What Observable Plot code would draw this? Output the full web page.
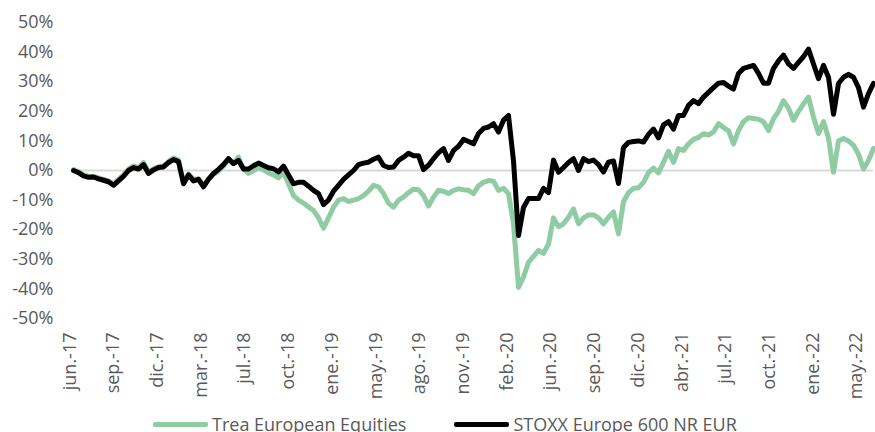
<!DOCTYPE html>
<html>
<head>
<meta charset="utf-8">
<script src="https://cdn.jsdelivr.net/npm/d3@7"></script>
<script src="https://cdn.jsdelivr.net/npm/@observablehq/plot@0.6"></script>
<style>
  body { margin: 0; background: #fff; font-family: "Open Sans", sans-serif; }
  #chart svg { display: block; }
  .legend { display: flex; align-items: center; padding-top: 15px; margin-left: 153px; color: #595959; font-size: 18px; line-height: 18px; }
  .item { display: flex; align-items: center; margin-right: 48px; }
  .sw { width: 55px; height: 5px; border-radius: 2px; margin-right: 4px; }
</style>
</head>
<body>
<div id="chart"></div>
<div class="legend" id="legend"></div>
<script>
const tickLabels = ["jun.-17","sep.-17","dic.-17","mar.-18","jul.-18","oct.-18","ene.-19","may.-19","ago.-19","nov.-19","feb.-20","jun.-20","sep.-20","dic.-20","abr.-21","jul.-21","oct.-21","ene.-22","may.-22"];
const yTicks = [-50,-40,-30,-20,-10,0,10,20,30,40,50];
const seriesNames = ["Trea European Equities", "STOXX Europe 600 NR EUR"];
const seriesColors = ["#8fcba3", "#000000"];

// Cumulative return (%), sampled roughly weekly (~8 trading days)
const treaValues = [
  0.3,-0.5,-1.5,-2,-2,-2.5,-3,-3.5,-4.5,-3,
  -1.5,0.5,1.5,1,2.7,-0.5,0.5,1.3,1.5,3,
  4.2,3.5,-4,-1.2,-3,-2.8,-5,-2.8,-1.3,-0.2,
  1.5,4,2.5,4.5,0.5,-1,0,1,0.2,-0.8,
  -1.5,-2.5,-0.5,-4.5,-8.5,-10,-11,-12.3,-13.5,-16,
  -19.5,-16,-12.4,-10,-9.5,-10.5,-10,-9.5,-8.5,-7,
  -5,-5.5,-7.8,-11,-12.4,-10,-9,-7.5,-6.3,-6.5,
  -8.5,-12,-9,-6.7,-7,-7.8,-6.7,-6.2,-6.5,-6.7,
  -7.8,-5.2,-4,-3.4,-3.6,-6.7,-6,-7.8,-18,-39.5,
  -36,-31,-29,-27,-28,-24.8,-16,-19,-18,-15.8,
  -13,-18,-16,-15,-15,-16,-18,-15.8,-14,-21.4,
  -10.5,-7.5,-6,-5.8,-4,-0.7,0.8,-0.8,2.8,6.5,
  2.7,7.4,6.8,9,10.5,11.2,12.4,12,13,15.8,
  14.5,13.5,9,13.5,16.5,17.8,17.6,17.3,16.5,13.5,
  17.5,20,23.6,21,17,20,22.5,24.8,18,12.5,
  16.5,11,-0.6,10,10.8,10,8.5,5.5,0.5,3.4,
  7.5
];
const stoxxValues = [
  0,-0.7,-1.8,-2.3,-2.2,-2.8,-3.3,-3.8,-5,-3.5,
  -2,0,1,0.5,2,-1,0.2,1,1.2,2.7,
  3.7,3,-4.5,-1.5,-3.5,-3,-5.5,-3,-1,0.4,
  2,4,2.3,3.4,0.5,0.5,1.6,2.5,1.7,0.9,
  0.6,-0.5,1.5,-1.5,-4.5,-4,-4,-5.3,-6.7,-7.8,
  -11.5,-10,-7,-5,-3,-1.5,0,2,2.5,2.8,
  3.8,4.5,1.7,1,1.2,3.4,4.5,5.8,5,5,
  0.3,1.8,4,6,7.4,3.4,6.7,8.2,10.5,9.8,
  9,12.5,14.2,14.7,15.8,13,17,18.6,3.2,-22,
  -12.5,-9.5,-9.5,-9.5,-6,-7.5,3.5,-0.6,1,2.7,
  4,0,4,3,3.5,2,-0.5,2.8,3.2,-4.4,
  7.8,9.5,9.8,10,9.6,12.2,14,11,15.4,16.5,
  14,18.6,18.6,22,23.6,22.6,24.8,26.4,28,29.5,
  29.7,28.5,27.5,32.8,34.5,35,35.5,32.8,29.5,29.5,
  34.5,37,39,36,34.5,36.5,38.5,41,36,31,
  35.5,31.5,19,29.4,31.5,32.5,31.5,28,21.4,26,
  29.4
];

const tickStart = 0.4, tickStep = 8.744; // label every ~69 trading days (in sample units)
const ticks = tickLabels.map((label, i) => ({pos: tickStart + tickStep * i, label}));
const trea = treaValues.map((v, i) => ({i, v}));
const stoxx = stoxxValues.map((v, i) => ({i, v}));

const chart = Plot.plot({
  width: 875,
  height: 400,
  marginLeft: 73,
  marginRight: 2,
  marginTop: 22,
  marginBottom: 82,
  style: {fontFamily: "Open Sans", fontSize: "18px", color: "#595959", background: "#fff"},
  x: {domain: [0, treaValues.length - 1], axis: null},
  y: {domain: [-50, 50], axis: null},
  marks: [
    Plot.ruleY([0], {stroke: "#d9d9d9", strokeWidth: 2}),
    Plot.axisY(yTicks, {tickSize: 0, tickPadding: 20, tickFormat: d => d + "%", fontSize: 18, label: null}),
    Plot.text(ticks, {x: "pos", text: "label", frameAnchor: "bottom", rotate: -90, textAnchor: "end", dy: 14, fill: "#595959", fontSize: 18}),
    Plot.line(trea, {x: "i", y: "v", stroke: seriesColors[0], strokeWidth: 5, strokeLinejoin: "round", strokeLinecap: "round"}),
    Plot.line(stoxx, {x: "i", y: "v", stroke: seriesColors[1], strokeWidth: 5, strokeLinejoin: "round", strokeLinecap: "round"})
  ]
});
document.getElementById("chart").appendChild(chart);

const legend = document.getElementById("legend");
seriesNames.forEach((name, k) => {
  const item = document.createElement("div");
  item.className = "item";
  const sw = document.createElement("span");
  sw.className = "sw";
  sw.style.background = seriesColors[k];
  const t = document.createElement("span");
  t.textContent = name;
  item.appendChild(sw);
  item.appendChild(t);
  legend.appendChild(item);
});
</script>
</body>
</html>
